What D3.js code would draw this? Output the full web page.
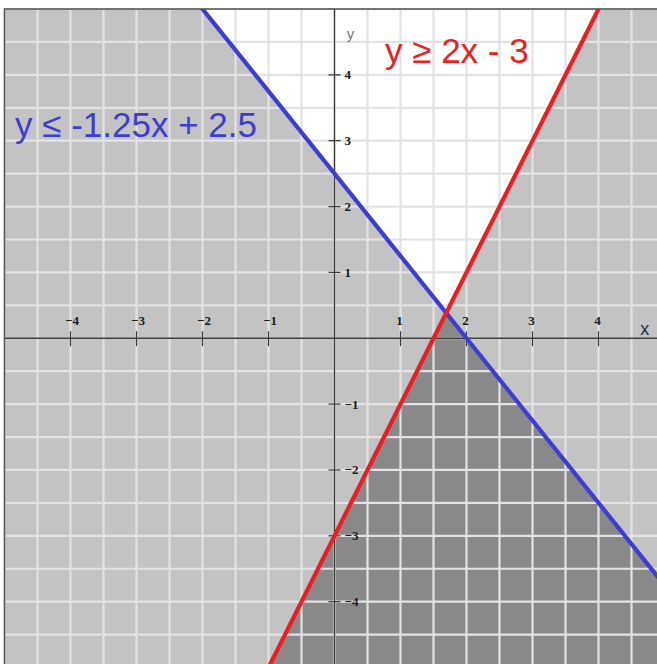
<!DOCTYPE html>
<html><head><meta charset="utf-8">
<script src="https://cdn.jsdelivr.net/npm/d3@7"></script>
<style>html,body{margin:0;padding:0;background:#fff;overflow:hidden}</style>
</head><body>
<script>
// Inequalities: y (op) slope*x + intercept
const slopes = [-1.25, 2];
const intercepts = [2.5, -3];
const labels = ["y ≤ -1.25x + 2.5", "y ≥ 2x - 3"];
const lineColors = ["#3d3dd2", "#ee1c24"];
const xTicks = [-4, -3, -2, -1, 1, 2, 3, 4];
const yTicks = [4, 3, 2, 1, -1, -2, -3, -4];
const xDomain = [-5, 5];
const yDomain = [-5, 5];
const gridStep = 0.5;

const W = 657, H = 664;
const svg = d3.select("body").append("svg").attr("width", W).attr("height", H);
const x = d3.scaleLinear().domain(xDomain).range([4.5, 664.5]);
const y = d3.scaleLinear().domain(yDomain).range([667.5, 9]);

const rectPoly = [[xDomain[0], yDomain[0]], [xDomain[1], yDomain[0]], [xDomain[1], yDomain[1]], [xDomain[0], yDomain[1]]];
function clip(poly, m, b, sign) {
  const f = p => sign * (p[1] - (m * p[0] + b));
  const out = [];
  for (let i = 0; i < poly.length; i++) {
    const a = poly[i], c = poly[(i + 1) % poly.length];
    const fa = f(a), fc = f(c);
    if (fa <= 0) out.push(a);
    if ((fa < 0 && fc > 0) || (fa > 0 && fc < 0)) {
      const t = fa / (fa - fc);
      out.push([a[0] + t * (c[0] - a[0]), a[1] + t * (c[1] - a[1])]);
    }
  }
  return out;
}
const toPath = poly => "M" + poly.map(p => [x(p[0]), y(p[1])].join(",")).join("L") + "Z";

svg.append("clipPath").attr("id", "plotclip").append("rect")
  .attr("x", x(xDomain[0])).attr("y", y(yDomain[1]))
  .attr("width", x(xDomain[1]) - x(xDomain[0])).attr("height", y(yDomain[0]) - y(yDomain[1]));
const g = svg.append("g").attr("clip-path", "url(#plotclip)");

g.append("path").attr("d", toPath(rectPoly)).attr("fill", "#c3c3c3");
const whitePoly = clip(clip(rectPoly, slopes[0], intercepts[0], -1), slopes[1], intercepts[1], -1);
g.append("path").attr("d", toPath(whitePoly)).attr("fill", "#ffffff");
const darkPoly = clip(clip(rectPoly, slopes[0], intercepts[0], 1), slopes[1], intercepts[1], 1);
g.append("path").attr("d", toPath(darkPoly)).attr("fill", "#898989");

const gx = d3.range(xDomain[0], xDomain[1] + 1e-9, gridStep);
const gy = d3.range(yDomain[0], yDomain[1] + 1e-9, gridStep);
g.selectAll("line.gx").data(gx).join("line")
  .attr("x1", d => x(d)).attr("x2", d => x(d)).attr("y1", y(yDomain[1])).attr("y2", y(yDomain[0]))
  .attr("stroke", "#e3e3e3").attr("stroke-width", 2.2);
g.selectAll("line.gy").data(gy).join("line")
  .attr("y1", d => y(d)).attr("y2", d => y(d)).attr("x1", x(xDomain[0])).attr("x2", x(xDomain[1]))
  .attr("stroke", "#e3e3e3").attr("stroke-width", 2.2);

const x0 = x(0), y0 = y(0);
g.append("line").attr("x1", x(xDomain[0])).attr("x2", x(xDomain[1])).attr("y1", y0).attr("y2", y0)
  .attr("stroke", "#3a3a3a").attr("stroke-width", 1.3);
g.append("line").attr("y1", y(yDomain[0])).attr("y2", y(yDomain[1])).attr("x1", x0).attr("x2", x0)
  .attr("stroke", "#3a3a3a").attr("stroke-width", 1.3);

g.selectAll("line.xt").data(xTicks).join("line")
  .attr("x1", d => x(d)).attr("x2", d => x(d)).attr("y1", y0 - 7).attr("y2", y0 + 8)
  .attr("stroke", "#3a3a3a").attr("stroke-width", 1.2);
g.selectAll("line.yt").data(yTicks).join("line")
  .attr("y1", d => y(d)).attr("y2", d => y(d)).attr("x1", x0 - 6).attr("x2", x0 + 6)
  .attr("stroke", "#3a3a3a").attr("stroke-width", 1.2);

const tickFont = "bold 13px 'Liberation Serif', 'Times New Roman', serif";
g.selectAll("text.xl").data(xTicks).join("text")
  .attr("x", d => x(d) + (d < 0 ? 1.5 : -1)).attr("y", y0 - 13)
  .attr("text-anchor", "middle").style("font", tickFont).attr("fill", "#1a1a1a")
  .text(d => d < 0 ? "−" + Math.abs(d) : d);
g.selectAll("text.yl").data(yTicks).join("text")
  .attr("x", x0 + 10).attr("y", d => y(d) + 4.5)
  .attr("text-anchor", "start").style("font", tickFont).attr("fill", "#1a1a1a")
  .text(d => d < 0 ? "−" + Math.abs(d) : d);

g.append("text").attr("x", x(4.7)).attr("y", y0 - 3).attr("text-anchor", "middle")
  .style("font", "18px 'Liberation Sans', Arial, sans-serif").attr("fill", "#2b2b40").text("x");
g.append("text").attr("x", x0 + 16).attr("y", y(4.55)).attr("text-anchor", "middle")
  .style("font", "15px 'Liberation Sans', Arial, sans-serif").attr("fill", "#777").text("y");

slopes.forEach((m, i) => {
  const b = intercepts[i];
  const xa = xDomain[0] - 1, xb = xDomain[1] + 1;
  g.append("line")
    .attr("x1", x(xa)).attr("y1", y(m * xa + b))
    .attr("x2", x(xb)).attr("y2", y(m * xb + b))
    .attr("stroke", lineColors[i]).attr("stroke-width", 4.2);
});

svg.append("rect").attr("x", x(xDomain[0])).attr("y", y(yDomain[1]))
  .attr("width", x(xDomain[1]) - x(xDomain[0])).attr("height", y(yDomain[0]) - y(yDomain[1]))
  .attr("fill", "none").attr("stroke", "#555").attr("stroke-width", 1.6);

const labelPos = [[15, 137], [385, 63]];
labels.forEach((t, i) => {
  svg.append("text").attr("x", labelPos[i][0]).attr("y", labelPos[i][1])
    .style("font", "35px 'Liberation Sans', Arial, sans-serif").attr("fill", lineColors[i])
    .text(t);
});
</script>
</body></html>
